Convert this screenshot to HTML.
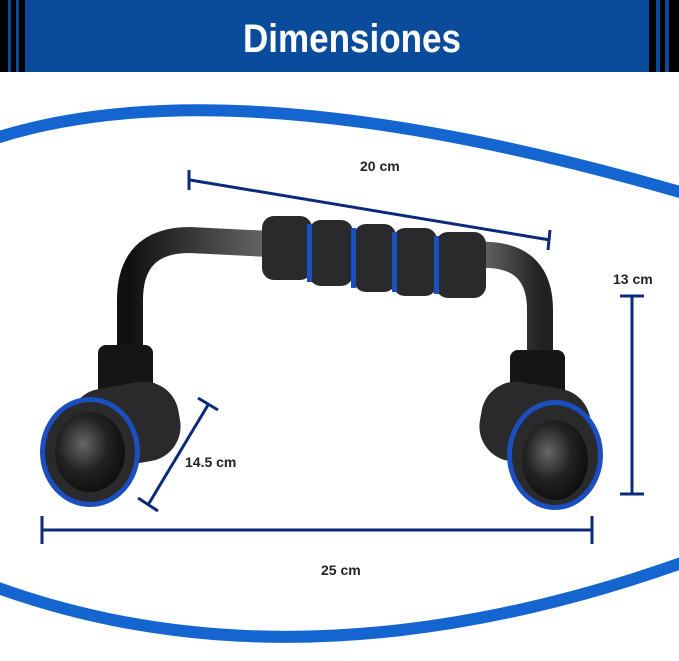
<!DOCTYPE html>
<html><head><style>
html,body{margin:0;padding:0;background:#fff;}
svg{display:block}
</style></head><body>
<svg width="679" height="661" viewBox="0 0 679 661" xmlns="http://www.w3.org/2000/svg">
<defs>
<linearGradient id="chrome" x1="0" y1="0" x2="1" y2="0">
<stop offset="0" stop-color="#111"/><stop offset="0.4" stop-color="#777"/><stop offset="0.6" stop-color="#ddd"/><stop offset="1" stop-color="#222"/>
</linearGradient>
<radialGradient id="cap" cx="0.4" cy="0.4" r="0.7">
<stop offset="0" stop-color="#666"/><stop offset="0.5" stop-color="#222"/><stop offset="1" stop-color="#0a0a0a"/>
</radialGradient>
</defs>
<rect width="679" height="661" fill="#fff"/>
<!-- header -->
<rect x="0" y="0" width="679" height="72" fill="#0a4c9b"/>
<rect x="0" y="0" width="8" height="72" fill="#000"/>
<rect x="11" y="0" width="5" height="72" fill="#000"/>
<rect x="19" y="0" width="6" height="72" fill="#000"/>
<rect x="649" y="0" width="7" height="72" fill="#000"/>
<rect x="660" y="0" width="5" height="72" fill="#000"/>
<rect x="669" y="0" width="10" height="72" fill="#000"/>
<text x="352" y="52" text-anchor="middle" font-family="Liberation Sans, sans-serif" font-weight="bold" font-size="40" fill="#fff" textLength="218" lengthAdjust="spacingAndGlyphs">Dimensiones</text>
<!-- arcs -->
<path d="M-10,140 Q230,60 690,195" fill="none" stroke="#1565d0" stroke-width="12"/>
<path d="M-10,585 Q300,700 690,560" fill="none" stroke="#1565d0" stroke-width="12"/>
<!-- bar frame -->
<path d="M130,360 L130,300 Q130,240 190,240 L490,255 Q540,258 540,310 L540,360" fill="none" stroke="url(#chrome)" stroke-width="26" stroke-linecap="round"/>
<rect x="98" y="345" width="55" height="100" rx="8" fill="#151515"/>
<rect x="510" y="350" width="55" height="100" rx="8" fill="#151515"/>
<!-- handle -->
<g fill="#2a2a2c">
<rect x="262" y="216" width="50" height="64" rx="12"/>
<rect x="309" y="220" width="44" height="66" rx="12"/>
<rect x="354" y="224" width="42" height="68" rx="12"/>
<rect x="393" y="228" width="44" height="68" rx="12"/>
<rect x="436" y="232" width="50" height="66" rx="12"/>
</g>
<g fill="#1a4fc0"><rect x="307" y="224" width="5" height="58"/><rect x="351" y="228" width="5" height="60"/><rect x="392" y="232" width="5" height="60"/><rect x="434" y="236" width="5" height="58"/></g>
<!-- left foot -->
<rect x="70" y="385" width="110" height="80" rx="35" fill="#2a2a2c" transform="rotate(-10 125 425)"/>
<ellipse cx="90" cy="452" rx="50" ry="55" fill="#1a4fc0"/>
<ellipse cx="90" cy="452" rx="45" ry="50" fill="#2a2a2c"/>
<ellipse cx="90" cy="452" rx="35" ry="40" fill="url(#cap)"/>
<!-- right foot -->
<rect x="480" y="385" width="110" height="80" rx="35" fill="#2a2a2c" transform="rotate(10 535 425)"/>
<ellipse cx="555" cy="455" rx="48" ry="55" fill="#1a4fc0"/>
<ellipse cx="555" cy="455" rx="43" ry="50" fill="#2a2a2c"/>
<ellipse cx="555" cy="460" rx="33" ry="40" fill="url(#cap)"/>
<!-- dimension lines -->
<g stroke="#0d2a7a" stroke-width="3" fill="none">
<line x1="190" y1="180" x2="550" y2="240"/><line x1="189" y1="170" x2="189" y2="190"/><line x1="550" y1="230" x2="548" y2="250"/>
<line x1="632" y1="296" x2="632" y2="494"/><line x1="620" y1="296" x2="644" y2="296"/><line x1="620" y1="494" x2="644" y2="494"/>
<line x1="208" y1="405" x2="148" y2="505"/><line x1="198" y1="398" x2="218" y2="410"/><line x1="138" y1="498" x2="158" y2="511"/>
<line x1="42" y1="530" x2="592" y2="530"/><line x1="42" y1="516" x2="42" y2="544"/><line x1="592" y1="516" x2="592" y2="544"/>
</g>
<g font-family="Liberation Sans, sans-serif" font-weight="bold" font-size="14" fill="#222">
<text x="360" y="171">20 cm</text>
<text x="613" y="284">13 cm</text>
<text x="185" y="467">14.5 cm</text>
<text x="321" y="575">25 cm</text>
</g>
</svg>
</body></html>
